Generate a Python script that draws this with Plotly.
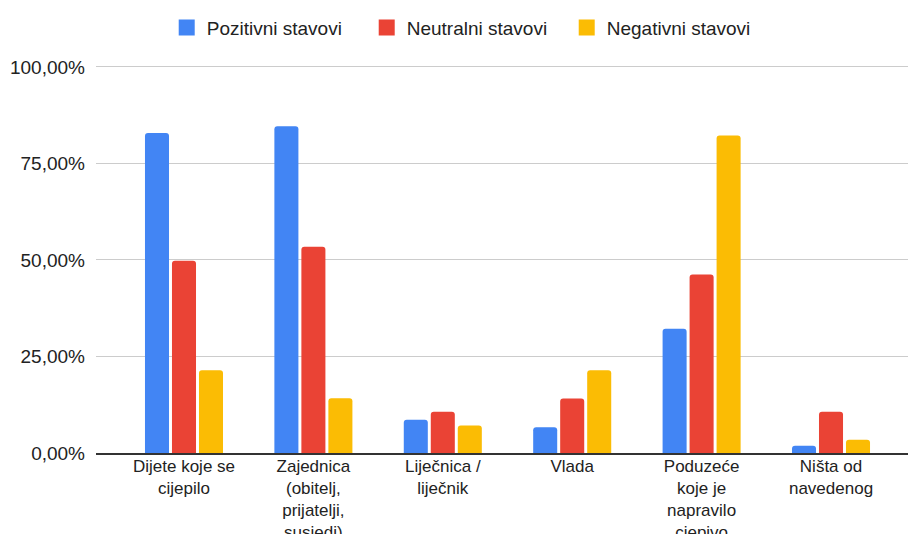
import plotly.graph_objects as go

categories = [
    "Dijete koje se<br>cijepilo",
    "Zajednica<br>(obitelj,<br>prijatelji,<br>susjedi)",
    "Liječnica /<br>liječnik",
    "Vlada",
    "Poduzeće<br>koje je<br>napravilo<br>cjepivo",
    "Ništa od<br>navedenog",
]
pozitivni = [0.829, 0.846, 0.086, 0.067, 0.322, 0.019]
neutralni = [0.498, 0.534, 0.107, 0.141, 0.462, 0.107]
negativni = [0.214, 0.142, 0.071, 0.214, 0.822, 0.034]

series = [
    ("Pozitivni stavovi", pozitivni, "#4285F4"),
    ("Neutralni stavovi", neutralni, "#EA4335"),
    ("Negativni stavovi", negativni, "#FBBC04"),
]

FONT = "Liberation Sans, Arial, sans-serif"

fig = go.Figure()
for name, vals, color in series:
    fig.add_trace(go.Bar(
        x=categories, y=vals, name=name,
        marker=dict(color=color, line=dict(width=0)),
        hoverinfo="skip", showlegend=False,
    ))
# legend entries with larger square swatches
for name, vals, color in series:
    fig.add_trace(go.Scatter(
        x=[None], y=[None], mode="markers", name=name,
        marker=dict(symbol="square", size=16, color=color),
        hoverinfo="skip", showlegend=True,
    ))

fig.update_layout(
    width=908, height=534,
    margin=dict(l=96, r=0, t=63, b=81, autoexpand=False),
    paper_bgcolor="white", plot_bgcolor="white",
    separators=",.",
    barmode="group",
    bargap=0.374, bargroupgap=0.11,
    barcornerradius=3,
    font=dict(family=FONT, color="#222222", size=19),
    showlegend=True,
    legend=dict(
        orientation="h", xref="container", yref="container",
        x=0.514, xanchor="center", y=0.948, yanchor="middle",
        font=dict(size=19, color="#222222"),
        itemwidth=30, itemsizing="trace", traceorder="normal",
        entrywidth=155, entrywidthmode="pixels",
    ),
    xaxis=dict(
        type="category",
        range=[-0.68, 5.595],
        showgrid=False,
        showline=True, linecolor="#333333", linewidth=1.5,
        ticks="", tickfont=dict(size=17, color="#222222"),
        ticklabelstandoff=-3,
        automargin=False,
        fixedrange=True,
    ),
    yaxis=dict(
        range=[0, 1.01],
        tickvals=[0, 0.25, 0.5, 0.75, 1.0],
        tickformat=".2%",
        showgrid=True, gridcolor="#cccccc", gridwidth=1,
        zeroline=False, showline=False,
        ticks="", tickfont=dict(size=19, color="#222222"),
        ticklabelstandoff=10,
        automargin=False,
        fixedrange=True,
    ),
)

fig.write_html(
    "out.html",
    config={"displayModeBar": False, "staticPlot": False},
    post_script="document.body.style.margin='0px';document.body.style.overflow='hidden';",
)
